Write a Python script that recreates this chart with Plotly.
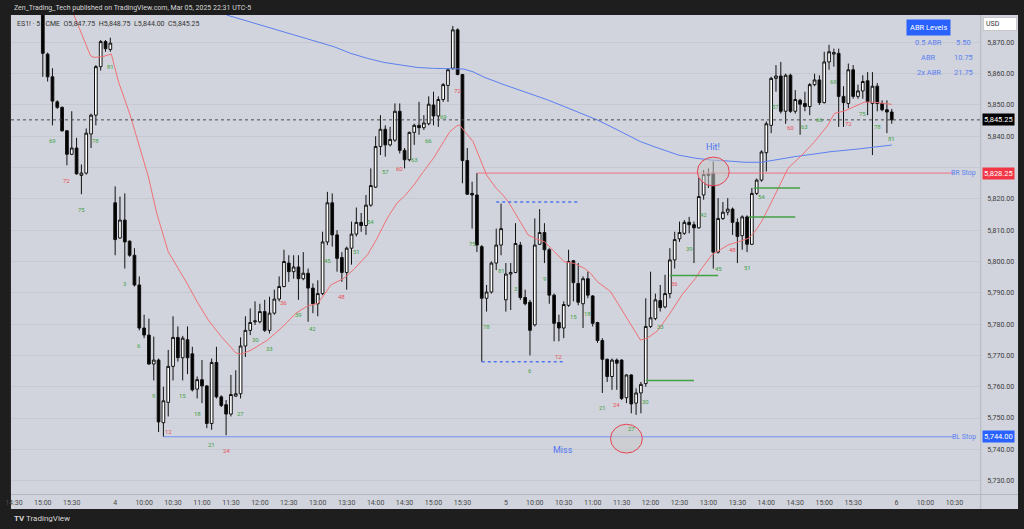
import plotly.graph_objects as go

W, H = 1024, 529

# ---------------- time axis (5-minute bars, 09:30-16:15 session) ----------------
bar_minutes = 5
open_minutes = 9 * 60 + 30
bars_per_session = 81
visible_days = ["3", "4", "5", "6"]
sessions_with_data = [("3", "15:00"), ("4", "09:30"), ("5", "09:30")]


def minutes(t):
    h, m = t.split(":")
    return int(h) * 60 + int(m)


first_offset = (minutes(sessions_with_data[0][1]) - open_minutes) // bar_minutes
session_start_index = {d: -first_offset + k * bars_per_session for k, d in enumerate(visible_days)}


def axis_pos(day, t):
    return session_start_index[day] + (minutes(t) - open_minutes) / bar_minutes


bar_day, bar_time = [], []
for d, start in sessions_with_data:
    m = minutes(start)
    while m < open_minutes + bars_per_session * bar_minutes:
        bar_day.append(d)
        bar_time.append(f"{m // 60:02d}:{m % 60:02d}")
        m += bar_minutes

# ---------------- OHLC values ----------------
opens = [
    5881, 5866.25, 5859, 5851, 5849.25, 5841.75, 5834.25, 5836.25, 5827.5, 5828.25,
    5840.75, 5846.75, 5862.25, 5870.25, 5867.75,
    # Mar 4
    5818.75, 5807.5, 5813.25, 5806.5, 5802, 5792.5, 5778.75, 5776.5, 5767.25, 5768.5,
    5748.5, 5755, 5766.5, 5775.75, 5769.25, 5775, 5770.5, 5759.25, 5762.25, 5760.25,
    5748.25, 5767.75, 5756.75, 5754.25, 5751.25, 5757, 5757.75, 5773, 5778, 5780.75,
    5780.75, 5784, 5778, 5783.5, 5788, 5792, 5799.5, 5796.75, 5798.25, 5794.5,
    5796.25, 5791.5, 5786.5, 5789.75, 5806.25, 5818.75, 5808.5, 5801.25, 5796.5, 5804.25,
    5808.75, 5812.5, 5811.5, 5818, 5823.75, 5836.75, 5842.25, 5837.25, 5838.75, 5848,
    5835.5, 5832.5, 5841.25, 5843.5, 5842.75, 5844, 5850, 5846.5, 5851.75, 5856.25,
    5861.75, 5874, 5859.75, 5832.25, 5821.75, 5821.25, 5804.75, 5788.25, 5790.25, 5799.5,
    5805.25,
    # Mar 5
    5787.75, 5796, 5796.5, 5805.25, 5788.5, 5787, 5779.75, 5805.5, 5809.25, 5803.75,
    5789.25, 5780.5, 5778.75, 5786, 5800.25, 5793, 5786.5, 5794.5, 5789, 5780.5,
    5774.75, 5768.75, 5763.25, 5768.5, 5768.5, 5756.5, 5763.75, 5754.75, 5758, 5761,
    5779.25, 5781.75, 5787.5, 5785.5, 5789.75, 5800.5, 5807.25, 5809, 5812.5, 5811.75,
    5810.75, 5821.25, 5827.5, 5828.25, 5803, 5813.75, 5815.75, 5816.75, 5812.5, 5808.25,
    5814.25, 5805.5, 5821.75, 5826, 5834.75, 5843.5, 5858.5, 5859.25, 5848, 5859.5,
    5848, 5851.5, 5850.5, 5849.5, 5856.5, 5858, 5850.75, 5863.75, 5866.25, 5866.5,
    5852.75, 5850.5, 5861.25, 5852.75, 5854.5, 5857.75, 5850.5, 5856, 5850.5, 5848.5,
    5847.75,
]
highs = [
    5882.5, 5866.75, 5861.75, 5851.5, 5849.5, 5842, 5848, 5839.5, 5831, 5842.5,
    5847.25, 5862.75, 5870.75, 5870.75, 5871.5,
    5824, 5820.75, 5821.75, 5806.75, 5804.25, 5795.25, 5783, 5781.75, 5776, 5769,
    5760, 5771.75, 5782.5, 5779.25, 5776.25, 5779.25, 5772.75, 5763.25, 5768.5, 5760.5,
    5769, 5772.75, 5757.25, 5755.75, 5763.75, 5765.25, 5775.75, 5782.5, 5785, 5787.25,
    5786.5, 5787.75, 5788.75, 5791, 5795.25, 5803.75, 5802, 5802, 5802, 5803,
    5797.75, 5793, 5794, 5809.5, 5822.25, 5821.75, 5810, 5803, 5804.75, 5812.75,
    5817.25, 5815.5, 5821.25, 5829.75, 5840, 5846.75, 5843.5, 5843, 5850.5, 5850.5,
    5836.25, 5841.5, 5844, 5851, 5846.75, 5852.75, 5854.25, 5852.75, 5857, 5861.75,
    5875.25, 5874.5, 5859.75, 5836.25, 5825.5, 5828.25, 5805.25, 5792.5, 5800, 5810.5,
    5818.5,
    5799.5, 5799.5, 5812.25, 5806.25, 5791, 5787.75, 5813.75, 5816.75, 5812.25, 5804.25,
    5789.75, 5783, 5787.25, 5803.75, 5800.5, 5799.5, 5795.25, 5796.75, 5789.25, 5780.75,
    5775.5, 5769, 5769, 5769, 5768.75, 5764, 5764, 5759.5, 5761.5, 5788.25,
    5796.75, 5789.75, 5792.5, 5795.75, 5804.25, 5809.5, 5812.75, 5813.25, 5814.25, 5812.75,
    5826.75, 5829.25, 5829.75, 5832, 5820.25, 5819, 5820.25, 5817.25, 5813.75, 5814.75,
    5814.75, 5823.5, 5826.5, 5835.5, 5844.75, 5859, 5862.75, 5863.75, 5860, 5860,
    5854.75, 5852, 5854.25, 5857, 5860, 5859.5, 5867, 5869.25, 5868, 5868,
    5856, 5863.25, 5862.75, 5856.5, 5859.5, 5860.5, 5860.5, 5857, 5851.5, 5851.5,
    5848.75,
]
lows = [
    5859, 5857.5, 5843.5, 5848.75, 5841.5, 5830.75, 5834, 5827.75, 5821.5, 5827.75,
    5836.25, 5843.5, 5861, 5867, 5867,
    5802, 5807.25, 5797.75, 5801.5, 5792, 5778, 5775.5, 5767, 5762, 5745.5,
    5744, 5750.5, 5762, 5768, 5762, 5764, 5758.5, 5756.25, 5754.75, 5746.75,
    5746.25, 5756.25, 5753.5, 5744.5, 5750.5, 5756.75, 5756.25, 5769.5, 5776.5, 5779.75,
    5780.25, 5777.5, 5777, 5783, 5787.25, 5791.75, 5793.5, 5794.5, 5787.75, 5794,
    5780.75, 5783.5, 5782.5, 5789.25, 5805.25, 5804.75, 5796.75, 5793.5, 5791, 5799,
    5808, 5809.5, 5808.5, 5817.5, 5823.5, 5834, 5833.5, 5836.75, 5838.25, 5834.5,
    5829.75, 5832, 5837.25, 5840.5, 5842, 5843.5, 5843.5, 5843, 5851, 5851,
    5861.25, 5859.5, 5825, 5821.25, 5810.5, 5803, 5768, 5784, 5789.75, 5797.25,
    5802,
    5784, 5784.5, 5796.25, 5787.75, 5786, 5770, 5779.25, 5805.25, 5799.5, 5786.5,
    5774.5, 5774.5, 5775.5, 5785.5, 5787.25, 5786, 5778.75, 5788.25, 5779.25, 5774,
    5758, 5761.5, 5759, 5759, 5755.75, 5754.75, 5751.5, 5751, 5751.5, 5760,
    5778.75, 5781.25, 5784, 5785, 5788.25, 5797.75, 5806.25, 5808.5, 5809, 5799.5,
    5810.5, 5819.75, 5823.5, 5797.75, 5802.5, 5813.25, 5814.75, 5808.5, 5799.5, 5803.75,
    5803, 5805.25, 5821.25, 5825.5, 5828.75, 5841, 5854.25, 5847.25, 5844, 5847.5,
    5847.25, 5840.5, 5848, 5846.75, 5856, 5850, 5850.5, 5861.25, 5862.25, 5843,
    5843, 5849, 5852, 5852, 5852, 5846.75, 5834, 5848, 5848, 5841,
    5844,
]
closes = [
    5866.5, 5859, 5851.25, 5849.25, 5841.75, 5834.25, 5836.25, 5828, 5828.25, 5841,
    5846.75, 5862.25, 5870.25, 5868, 5869.75,
    5807, 5813.25, 5806.25, 5802, 5792.5, 5778.75, 5776.5, 5767.25, 5768.5, 5748.75,
    5755.5, 5766.5, 5775.75, 5769.25, 5775.5, 5769.25, 5759, 5762.25, 5760.25, 5748.25,
    5767.75, 5756.75, 5754, 5751.25, 5757.5, 5757.75, 5773, 5778, 5780.5, 5781,
    5784, 5778, 5783.5, 5788, 5792, 5800, 5796.75, 5798.25, 5794.5, 5796.25,
    5791.5, 5786.5, 5789.75, 5806.25, 5818.75, 5808.5, 5801, 5796.5, 5804.25, 5808.75,
    5812.5, 5811.5, 5818, 5824.25, 5836.75, 5842.25, 5837.25, 5839, 5848, 5835.5,
    5832.5, 5841.25, 5843.5, 5842.75, 5844.25, 5850.25, 5846.5, 5851.75, 5856.5, 5861.25,
    5874, 5859.75, 5832.25, 5821.5, 5821.25, 5805.25, 5788.25, 5790.25, 5799.5, 5805.25,
    5810.5,
    5796, 5796.5, 5805.75, 5788.5, 5786.5, 5778, 5805.25, 5809.25, 5803.75, 5789.25,
    5780.25, 5778.75, 5786.25, 5800, 5793.25, 5787, 5794.5, 5789.25, 5780.25, 5774.75,
    5768.75, 5763.25, 5768.5, 5767.5, 5756.25, 5763.75, 5754.5, 5758, 5760.75, 5779.25,
    5782, 5787.75, 5785.25, 5789.75, 5800.5, 5807, 5809.25, 5812.5, 5811.75, 5810.75,
    5820.75, 5827.75, 5828, 5803, 5813.75, 5815.75, 5816.75, 5812.5, 5808, 5814.25,
    5805.5, 5821.75, 5826, 5835, 5844, 5858.5, 5859.25, 5848, 5859.5, 5848,
    5851.75, 5850.25, 5849.5, 5856.5, 5858, 5850.75, 5863.75, 5867, 5866.75, 5852.75,
    5850.75, 5861.25, 5852.75, 5854.5, 5857.5, 5851, 5856, 5850.5, 5848.5, 5847.75,
    5845.25,
]

# ---------------- moving averages (traced points: bar position, price) ----------------
ema_fast_pos = [6.45, 7.83, 8.86, 9.89, 10.6, 12.3, 14.2, 15.7, 18.1, 19.8, 21.9, 23.6, 26.0,
                29.5, 32.2, 34.3, 37.0, 40.1, 41.2, 43.2, 46.6, 49.4, 52.5, 54.9, 57.0, 58.3,
                59.7, 62.4, 64.5, 67.3, 69.3, 71.4, 73.4, 75.2, 76.9, 78.9, 81.0, 83.1, 84.4,
                85.8, 86.4, 87.5, 89.2, 90.6, 92.0, 94.0, 95.4, 96.5, 98.5, 100.6, 102.0, 104.0,
                106.1, 108.1, 110.2, 112.3, 113.6, 115.0, 117.7, 119.8, 121.9, 123.9, 125.3,
                127.4, 129.8, 132.5, 135.3, 136.6, 138.7, 140.8, 142.1, 144.2, 146.3, 147.6,
                149.0, 151.1, 153.1, 154.5, 157.4, 160.0, 162.8, 164.1, 166.2, 168.2, 170.3,
                172.4, 174.4, 176.0]
ema_fast_val = [5878.75, 5873.4, 5869.2, 5865.75, 5865.2, 5865.4, 5866.3, 5857.4, 5846.8, 5838.3,
                5827.0, 5815.5, 5803.1, 5794.1, 5786.6, 5781.3, 5776.0, 5770.7, 5770.4, 5771.7,
                5774.9, 5778.7, 5783.5, 5785.8, 5786.6, 5789.3, 5792.5, 5794.6, 5797.5, 5802.1,
                5807.4, 5813.8, 5818.6, 5821.2, 5824.4, 5828.7, 5833.0, 5838.3, 5841.5, 5843.3,
                5843.6, 5841.5, 5838.3, 5833.0, 5827.6, 5823.4, 5821.2, 5819.1, 5813.8, 5808.5,
                5807.4, 5806.3, 5803.1, 5799.9, 5799.4, 5797.8, 5796.2, 5793.5, 5790.4, 5785.0,
                5779.7, 5774.9, 5775.5, 5777.8, 5782.9, 5789.3, 5794.6, 5797.8, 5802.1, 5804.2,
                5805.3, 5806.3, 5807.4, 5809.5, 5812.7, 5819.1, 5825.5, 5829.8, 5834.0, 5838.3,
                5843.6, 5847.3, 5848.1, 5849.5, 5850.9, 5850.9, 5850.5, 5850.2]
ema_slow_pos = [38.1, 46.0, 54.2, 60.4, 63.8, 67.3, 70.7, 74.1, 77.6, 81.0, 84.4, 87.2, 89.2, 91.3,
                95.4, 97.8, 101.3, 104.7, 108.1, 111.6, 115.0, 118.4, 121.9, 123.9, 126.7, 129.4,
                131.8, 135.3, 138.7, 142.1, 145.6, 149.0, 152.4, 155.9, 159.3, 163.4, 168.2,
                171.7, 176.0]
ema_slow_val = [5878.75, 5875.2, 5871.4, 5868.6, 5866.5, 5864.9, 5863.6, 5862.8, 5862.0, 5861.7,
                5861.5, 5861.5, 5860.6, 5859.0, 5856.6, 5855.3, 5853.2, 5851.6, 5849.5, 5847.3,
                5845.2, 5842.6, 5839.9, 5838.3, 5836.7, 5835.3, 5834.0, 5833.0, 5832.4, 5832.1,
                5831.7, 5831.7, 5832.7, 5833.5, 5834.2, 5835.1, 5835.8, 5836.4, 5837.2]

# ---------------- levels ----------------
last_price = 5845.25
br_stop, br_anchor = 5828.25, ("4", "15:45")
bl_stop, bl_anchor = 5744.00, ("4", "10:20")
range_levels = [5819.0, 5768.0]
range_from = [("4", "16:05"), ("4", "15:50")]
range_to = [("5", "10:45"), ("5", "10:30")]
green_levels = [5762.0, 5795.5, 5814.25, 5823.5]
green_from = [("5", "11:55"), ("5", "12:20"), ("5", "13:42"), ("5", "13:47")]
green_to = [("5", "12:45"), ("5", "13:10"), ("5", "14:30"), ("5", "14:35")]
hit_mark = (("5", "13:05"), 5828.75)
miss_mark = (("5", "11:35"), 5743.4)
abr_names = ["0.5 ABR", "ABR", "2x ABR"]
abr_values = ["5.50", "10.75", "21.75"]
price_ticks = list(range(5730, 5871, 10))

# ---------------- layout helpers ----------------
BG = "#d1d4dc"
FRAME = "#1e1e1e"
GRID = "#c6c9d1"
FONT = "Roboto, Liberation Sans, sans-serif"
plot_left, plot_right, plot_top, plot_bottom = 5, 980, 15, 494


def px(xp):
    return xp / W


def py(yp):
    return 1 - yp / H


y_range = [5725.72, 5878.75]
x_range = [-6.6, 194.35]

x_pos = [axis_pos(d, t) for d, t in zip(bar_day, bar_time)]

fig = go.Figure()
fig.add_trace(go.Scatter(x=ema_slow_pos, y=ema_slow_val, mode="lines",
                         line=dict(color="#5b7ff0", width=1), hoverinfo="skip"))
fig.add_trace(go.Scatter(x=ema_fast_pos, y=ema_fast_val, mode="lines",
                         line=dict(color="#f07075", width=1), hoverinfo="skip"))
fig.add_trace(go.Candlestick(
    x=x_pos, open=opens, high=highs, low=lows, close=closes,
    increasing=dict(line=dict(color="#111111", width=1), fillcolor="#ffffff"),
    decreasing=dict(line=dict(color="#111111", width=1), fillcolor="#000000"),
    whiskerwidth=0, hoverinfo="skip"))

shapes = []
annotations = []


def note(x, y, text, size=7, color="#333333", xanchor="center", yanchor="middle", xref="paper", yref="paper",
         **kw):
    annotations.append(dict(x=x, y=y, xref=xref, yref=yref, text=text, showarrow=False, xanchor=xanchor,
                            yanchor=yanchor, font=dict(family=FONT, size=size, color=color), **kw))


# light chart background incl. axes areas
shapes.append(dict(type="rect", xref="paper", yref="paper", x0=px(5), x1=px(1018), y0=py(509), y1=py(15),
                   fillcolor=BG, line=dict(width=0), layer="below"))
# separators
shapes.append(dict(type="line", xref="paper", yref="paper", x0=px(980.5), x1=px(980.5), y0=py(509), y1=py(15),
                   line=dict(color="#b4b7bf", width=1)))
shapes.append(dict(type="line", xref="paper", yref="paper", x0=px(5), x1=px(1018), y0=py(494.5), y1=py(494.5),
                   line=dict(color="#b4b7bf", width=1)))
# last price dotted line
shapes.append(dict(type="line", xref="paper", yref="y", x0=px(plot_left), x1=px(plot_right), y0=last_price,
                   y1=last_price, line=dict(color="#4a4a4a", width=1, dash="dot")))
# stops
stop_end = x_range[0] + (953 - plot_left) / (plot_right - plot_left) * (x_range[1] - x_range[0])
shapes.append(dict(type="line", xref="x", yref="y", x0=axis_pos(*br_anchor), x1=stop_end, y0=br_stop, y1=br_stop,
                   line=dict(color="#f07080", width=1)))
shapes.append(dict(type="line", xref="x", yref="y", x0=axis_pos(*bl_anchor), x1=stop_end, y0=bl_stop, y1=bl_stop,
                   line=dict(color="#6f90f5", width=1)))
for lv, a, b in zip(range_levels, range_from, range_to):
    shapes.append(dict(type="line", xref="x", yref="y", x0=axis_pos(*a), x1=axis_pos(*b), y0=lv, y1=lv,
                       line=dict(color="#4f74f0", width=1.5, dash="dot")))
for lv, a, b in zip(green_levels, green_from, green_to):
    shapes.append(dict(type="line", xref="x", yref="y", x0=axis_pos(*a), x1=axis_pos(*b), y0=lv, y1=lv,
                       line=dict(color="#43a047", width=1.5)))
for (pos, price), label, lx, ly in [(hit_mark, "Hit!", 0, 11), (miss_mark, "Miss", -13.2, -5)]:
    cx = axis_pos(*pos)
    shapes.append(dict(type="circle", xref="x", yref="y", x0=cx - 3.3, x1=cx + 3.3, y0=price - 4.6,
                       y1=price + 4.6, fillcolor="rgba(200,200,200,0.55)", line=dict(color="#e8424f", width=1)))
    note(cx + lx, price + ly * 0.7, label, size=9, color="#4f74f0", xref="x", yref="y")

# bar-count labels every 3rd bar of each session
for xp, t, lo in zip(x_pos, bar_time, lows):
    n = (minutes(t) - open_minutes) // bar_minutes + 1
    if n % 3 == 0:
        note(xp, lo, str(n), size=6, color="#e8505b" if n % 12 == 0 else "#43a047", xref="x", yref="y",
             yshift=-15)

# stop labels and price tags
for lv, name in [(br_stop, "BR Stop"), (bl_stop, "BL Stop")]:
    note(px(978), lv, name, size=7, color="#5b7ff0", xanchor="right", yref="y")
for lv, col in [(last_price, "#000000"), (br_stop, "#f23645"), (bl_stop, "#2962ff")]:
    note(px(982), lv, f"{lv:,.2f}", size=7.5, color="#ffffff", xanchor="left", yref="y", bgcolor=col, borderpad=1)

# ABR table
note(px(927.5), py(27.5), "ABR Levels", size=7.5, color="#ffffff", bgcolor="#2962ff", borderpad=3)
for k, (nm, val) in enumerate(zip(abr_names, abr_values)):
    yy = py(42.5 + 15 * k)
    note(px(928), yy, nm, size=7.5, color="#5b7ff0")
    note(px(963), yy, val, size=7.5, color="#5b7ff0")
# USD box
note(px(999.5), py(24), "USD", size=7, color="#333333", bgcolor="#ffffff", bordercolor="#c8c8c8",
     borderwidth=1, borderpad=2, width=28, align="left")
# header texts
note(px(6), py(7.5), "Zen_Trading_Tech published on TradingView.com, Mar 05, 2025 22:31 UTC-5", size=7,
     color="#d8d8d8", xanchor="left")
note(px(9), py(24), "ES1! · 5 · CME  O5,847.75  H5,848.75  L5,844.00  C5,845.25", size=7, color="#333333",
     xanchor="left")
note(px(6), py(518.5), "<b>TV</b> TradingView", size=8, color="#d8d8d8", xanchor="left")

# x ticks
tick_vals, tick_text = [], []
for d in visible_days:
    for m in range(open_minutes, 16 * 60, 30):
        t = f"{m // 60:02d}:{m % 60:02d}"
        p = axis_pos(d, t)
        if x_range[0] <= p <= x_range[1]:
            tick_vals.append(p)
            tick_text.append(d if m == open_minutes else f"{m // 60}:{m % 60:02d}")

# price ticks (the one under the BR Stop tag is covered, as on the original)
price_text = ["" if abs(v - br_stop) < 3 else f"{v:,.2f}" for v in price_ticks]

fig.update_layout(
    width=W, height=H, margin=dict(l=0, r=0, t=0, b=0),
    paper_bgcolor=FRAME, plot_bgcolor=BG, showlegend=False, boxgap=0.2,
    shapes=shapes, annotations=annotations,
    xaxis=dict(domain=[px(plot_left), px(plot_right)], range=x_range, tickvals=tick_vals, ticktext=tick_text,
               showgrid=False, zeroline=False, showline=False, ticks="", rangeslider=dict(visible=False),
               tickfont=dict(family=FONT, size=7, color="#4a4a4a"), ticklabelstandoff=3,
               ticklabeloverflow="allow"),
    yaxis=dict(domain=[py(plot_bottom), py(plot_top)], range=y_range, side="right", tickvals=price_ticks,
               ticktext=price_text, showgrid=True, gridcolor=GRID, gridwidth=1, zeroline=False, showline=False,
               ticks="", tickfont=dict(family=FONT, size=7, color="#3b3b3b"), ticklabelstandoff=6),
)

fig.write_html("out.html", config={"displayModeBar": False},
               post_script="document.body.style.margin='0';document.body.style.overflow='hidden';")
